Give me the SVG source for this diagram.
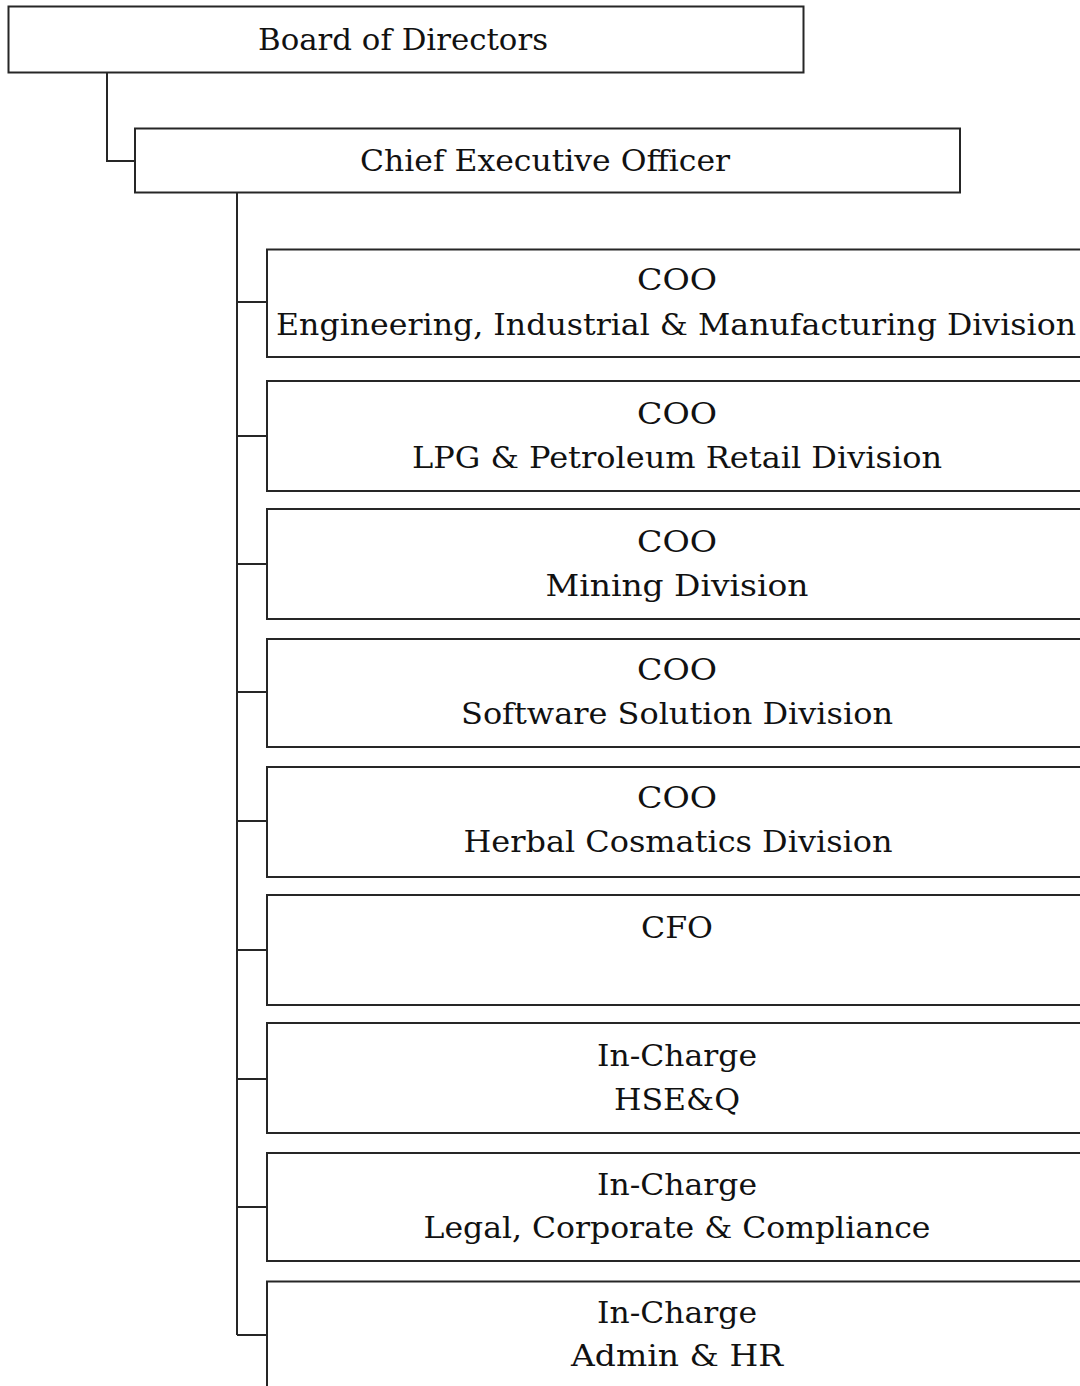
<svg xmlns="http://www.w3.org/2000/svg" width="1080" height="1386" viewBox="0 0 1080 1386">
<style>
.box{fill:#fff;stroke:#262626;stroke-width:2}
.con{fill:none;stroke:#262626;stroke-width:2}
text{font-family:"DejaVu Serif","Liberation Serif",serif;font-size:30px;fill:#111;text-anchor:middle}
</style>
<rect width="1080" height="1386" fill="#fff"/>
<g id="connectors">
<path class="con" d="M107 72.5V161H135"/>
<path class="con" d="M237 192.5V1335"/>
<path class="con" d="M237 302H267M237 436H267M237 564H267M237 692H267M237 821H267M237 950H267M237 1079H267M237 1207H267M237 1335H267"/>
</g>
<g id="board"><rect class="box" x="8.5" y="6.5" width="795" height="66"/><text x="403" y="50" textLength="290" lengthAdjust="spacingAndGlyphs">Board of Directors</text></g>
<g id="ceo"><rect class="box" x="135" y="128.5" width="825" height="64"/><text x="545" y="171" textLength="370" lengthAdjust="spacingAndGlyphs">Chief Executive Officer</text></g>
<g id="coo-eim"><rect class="box" x="267" y="249.5" width="830" height="107.5"/><text x="677" y="290" textLength="80" lengthAdjust="spacingAndGlyphs">COO</text><text x="676" y="335" textLength="800" lengthAdjust="spacingAndGlyphs">Engineering, Industrial &amp; Manufacturing Division</text></g>
<g id="coo-lpg"><rect class="box" x="267" y="381" width="830" height="110"/><text x="677" y="424" textLength="80" lengthAdjust="spacingAndGlyphs">COO</text><text x="677" y="468" textLength="530" lengthAdjust="spacingAndGlyphs">LPG &amp; Petroleum Retail Division</text></g>
<g id="coo-mining"><rect class="box" x="267" y="509" width="830" height="110"/><text x="677" y="552" textLength="80" lengthAdjust="spacingAndGlyphs">COO</text><text x="677" y="596" textLength="263" lengthAdjust="spacingAndGlyphs">Mining Division</text></g>
<g id="coo-software"><rect class="box" x="267" y="639" width="830" height="108"/><text x="677" y="680" textLength="80" lengthAdjust="spacingAndGlyphs">COO</text><text x="677" y="724" textLength="432" lengthAdjust="spacingAndGlyphs">Software Solution Division</text></g>
<g id="coo-herbal"><rect class="box" x="267" y="767" width="830" height="110"/><text x="677" y="808" textLength="80" lengthAdjust="spacingAndGlyphs">COO</text><text x="678" y="852" textLength="429" lengthAdjust="spacingAndGlyphs">Herbal Cosmatics Division</text></g>
<g id="cfo"><rect class="box" x="267" y="895" width="830" height="110"/><text x="677" y="938" textLength="72" lengthAdjust="spacingAndGlyphs">CFO</text></g>
<g id="hseq"><rect class="box" x="267" y="1023" width="830" height="110"/><text x="677" y="1066" textLength="160" lengthAdjust="spacingAndGlyphs">In-Charge</text><text x="677" y="1110" textLength="126" lengthAdjust="spacingAndGlyphs">HSE&amp;Q</text></g>
<g id="legal"><rect class="box" x="267" y="1153" width="830" height="108"/><text x="677" y="1195" textLength="160" lengthAdjust="spacingAndGlyphs">In-Charge</text><text x="677" y="1238" textLength="507" lengthAdjust="spacingAndGlyphs">Legal, Corporate &amp; Compliance</text></g>
<g id="admin"><rect class="box" x="267" y="1281.5" width="830" height="120"/><text x="677" y="1323" textLength="160" lengthAdjust="spacingAndGlyphs">In-Charge</text><text x="677" y="1366" textLength="212" lengthAdjust="spacingAndGlyphs">Admin &amp; HR</text></g>
</svg>
